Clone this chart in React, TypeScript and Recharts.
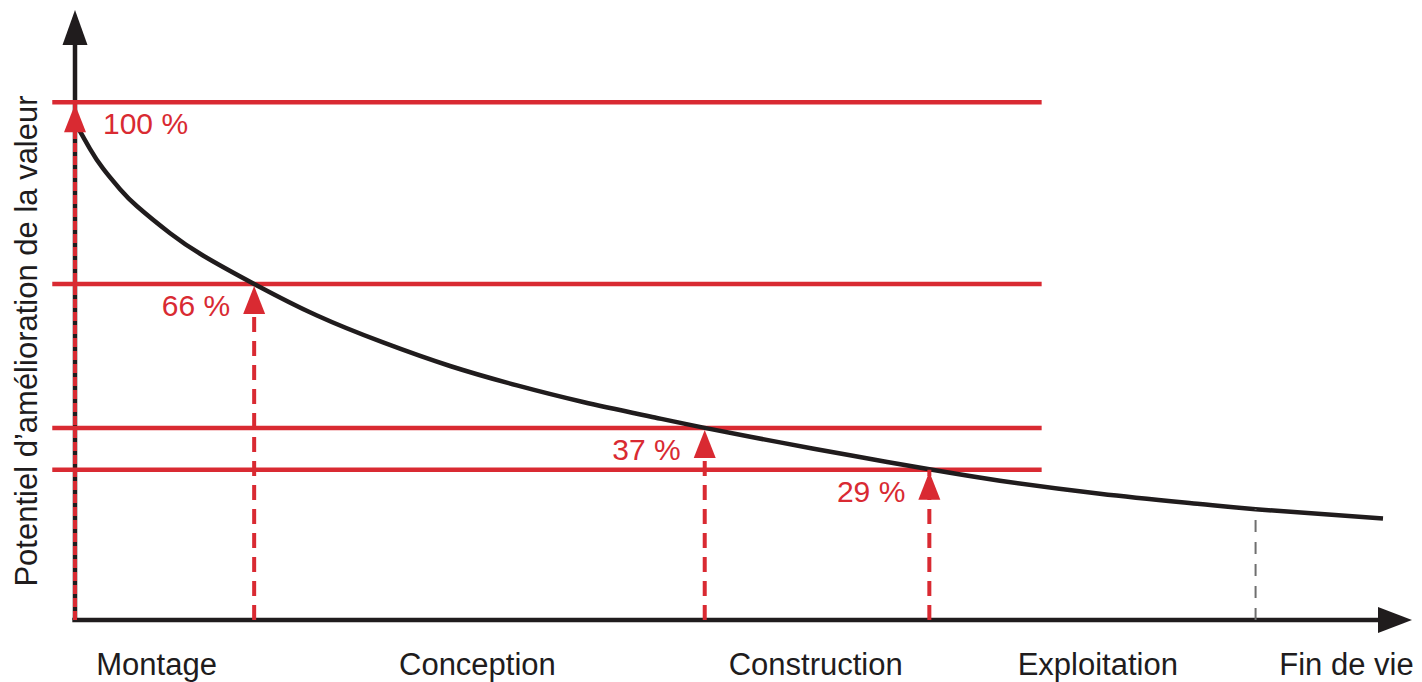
import React from 'react';
import { ComposedChart, Line, XAxis, YAxis, ReferenceLine, ReferenceDot } from 'recharts';

const RED = '#d92a32';
const BLACK = '#201c1d';
const GREY = '#6f6f6f';
const FONT = '"Liberation Sans", Arial, Helvetica, sans-serif';

// Phases along the time axis
const phaseNames = ['Montage', 'Conception', 'Construction', 'Exploitation', 'Fin de vie'];
const phaseCenters = [6.1, 30.1, 55.4, 76.5, 95.1];

// Levels of value-improvement potential (position on the value axis) and their labels
const levelValues = [100, 64.9, 37.1, 29.0];
const levelLabels = ['100 %', '66 %', '37 %', '29 %'];
const milestoneX = [0, 13.4, 47.1, 63.9];
const levelLineStart = -1.7;
const levelLineEnd = 72.3;

// End-of-life marker
const endOfLifeX = 88.3;
const endOfLifeY = 21.4;

// Decreasing curve
const curveT = [0.22, 1.12, 2.09, 3.37, 4.64, 7.11, 9.57, 13.4, 18.1, 23.04, 28.05, 33.06, 38.0, 43.01, 47.1, 52.73, 57.97, 63.9, 69.18, 76.66, 84.14, 88.3, 97.83];
const curveV = [95.1, 91.0, 87.2, 83.2, 79.9, 74.7, 70.4, 64.9, 58.8, 53.6, 49.05, 45.3, 42.1, 39.3, 37.1, 34.3, 31.8, 29.1, 26.9, 24.4, 22.4, 21.4, 19.6];

const xDomain: [number, number] = [0, 100];
const yDomain: [number, number] = [0, 117.8];
const xAxisEnd = 97.5;
const yAxisEnd = 111.5;

const curveData = curveT.map((t, i) => ({ t, v: curveV[i] }));

const PhaseTick = (props: any) => {
  const { x, y, payload } = props;
  const idx = phaseCenters.indexOf(payload.value);
  return (
    <text x={x} y={y + 55} textAnchor="middle" fontFamily={FONT} fontSize={31} fill={BLACK}>
      {phaseNames[idx]}
    </text>
  );
};

const YLabel = (props: any) => {
  const vb = props.viewBox || { x: 0, y: 10, width: 75, height: 610 };
  const cx = vb.x + 37;
  const cy = vb.y + vb.height / 2 + 26;
  return (
    <text
      x={cx}
      y={cy}
      transform={`rotate(-90, ${cx}, ${cy})`}
      textAnchor="middle"
      fontFamily={FONT}
      fontSize={31}
      fill={BLACK}
    >
      Potentiel d’amélioration de la valeur
    </text>
  );
};

const upArrow = (color: string, half: number, len: number, off: number) => (p: any) => (
  <polygon
    points={`${p.cx},${p.cy + off} ${p.cx - half},${p.cy + off + len} ${p.cx + half},${p.cy + off + len}`}
    fill={color}
  />
);

const rightArrow = (p: any) => (
  <polygon points={`${p.cx},${p.cy} ${p.cx - 34},${p.cy - 13} ${p.cx - 34},${p.cy + 13}`} fill={BLACK} />
);

export default function App() {
  return (
    <div style={{ position: 'absolute', left: 0, top: 0, width: 1422, height: 682, background: '#fff' }}>
      <ComposedChart width={1422} height={682} data={curveData} margin={{ top: 10, right: 10, bottom: 0, left: 0 }}>
        <XAxis
          type="number"
          dataKey="t"
          domain={xDomain}
          scale="linear"
          allowDataOverflow
          ticks={phaseCenters}
          interval={0}
          axisLine={false}
          tickLine={false}
          tickSize={0}
          tickMargin={0}
          height={62}
          tick={<PhaseTick />}
        />
        <YAxis
          type="number"
          domain={yDomain}
          scale="linear"
          allowDataOverflow
          width={75}
          axisLine={false}
          tickLine={false}
          tick={false}
          label={(p: any) => <YLabel {...p} />}
        />

        {/* axes */}
        <ReferenceLine
          segment={[{ x: -0.2, y: 0 }, { x: xAxisEnd, y: 0 }]}
          stroke={BLACK}
          strokeWidth={4.5}
          ifOverflow="visible"
          zIndex={50}
        />
        <ReferenceLine
          segment={[{ x: 0, y: 0 }, { x: 0, y: yAxisEnd }]}
          stroke={BLACK}
          strokeWidth={4.5}
          ifOverflow="visible"
          zIndex={50}
        />
        <ReferenceDot x={xDomain[1]} y={0} r={1} ifOverflow="visible" shape={rightArrow} zIndex={50} />
        <ReferenceDot
          x={0}
          y={yDomain[1]}
          r={1}
          ifOverflow="visible"
          shape={(p: any) => (
            <polygon points={`${p.cx},${p.cy} ${p.cx - 12.5},${p.cy + 35} ${p.cx + 12.5},${p.cy + 35}`} fill={BLACK} />
          )}
          zIndex={50}
        />

        {/* horizontal level lines */}
        {levelValues.map((L, i) => (
          <ReferenceLine
            key={`lvl-${i}`}
            segment={[{ x: levelLineStart, y: L }, { x: levelLineEnd, y: L }]}
            stroke={RED}
            strokeWidth={4.5}
            ifOverflow="visible"
            zIndex={100}
          />
        ))}

        <Line
          type="natural"
          dataKey="v"
          stroke={BLACK}
          strokeWidth={4.5}
          dot={false}
          activeDot={false}
          isAnimationActive={false}
        />

        {/* dashed verticals */}
        {milestoneX.map((m, i) => (
          <ReferenceLine
            key={`dash-${i}`}
            segment={[{ x: m, y: 0 }, { x: m, y: levelValues[i] }]}
            stroke={RED}
            strokeWidth={4}
            strokeDasharray={i === 0 ? '9 4' : '15 9'}
            ifOverflow="visible"
            zIndex={450}
          />
        ))}
        <ReferenceLine
          segment={[{ x: endOfLifeX, y: 0 }, { x: endOfLifeX, y: endOfLifeY }]}
          stroke={GREY}
          strokeWidth={2}
          strokeDasharray="12 10"
          ifOverflow="visible"
          zIndex={450}
        />

        {/* arrows */}
        {milestoneX.map((m, i) => (
          <ReferenceDot
            key={`arr-${i}`}
            x={m}
            y={levelValues[i]}
            r={1}
            ifOverflow="visible"
            shape={upArrow(RED, 11, 28, 2)}
            zIndex={600}
          />
        ))}

        {/* percent labels */}
        {milestoneX.map((m, i) => (
          <ReferenceDot
            key={`lab-${i}`}
            x={m}
            y={levelValues[i]}
            r={1}
            ifOverflow="visible"
            zIndex={2000}
            shape={(p: any) => (
              <text
                x={i === 0 ? p.cx + 28 : p.cx - 24}
                y={p.cy + 32}
                textAnchor={i === 0 ? 'start' : 'end'}
                fontFamily={FONT}
                fontSize={30}
                fill={RED}
              >
                {levelLabels[i]}
              </text>
            )}
          />
        ))}
      </ComposedChart>
    </div>
  );
}
